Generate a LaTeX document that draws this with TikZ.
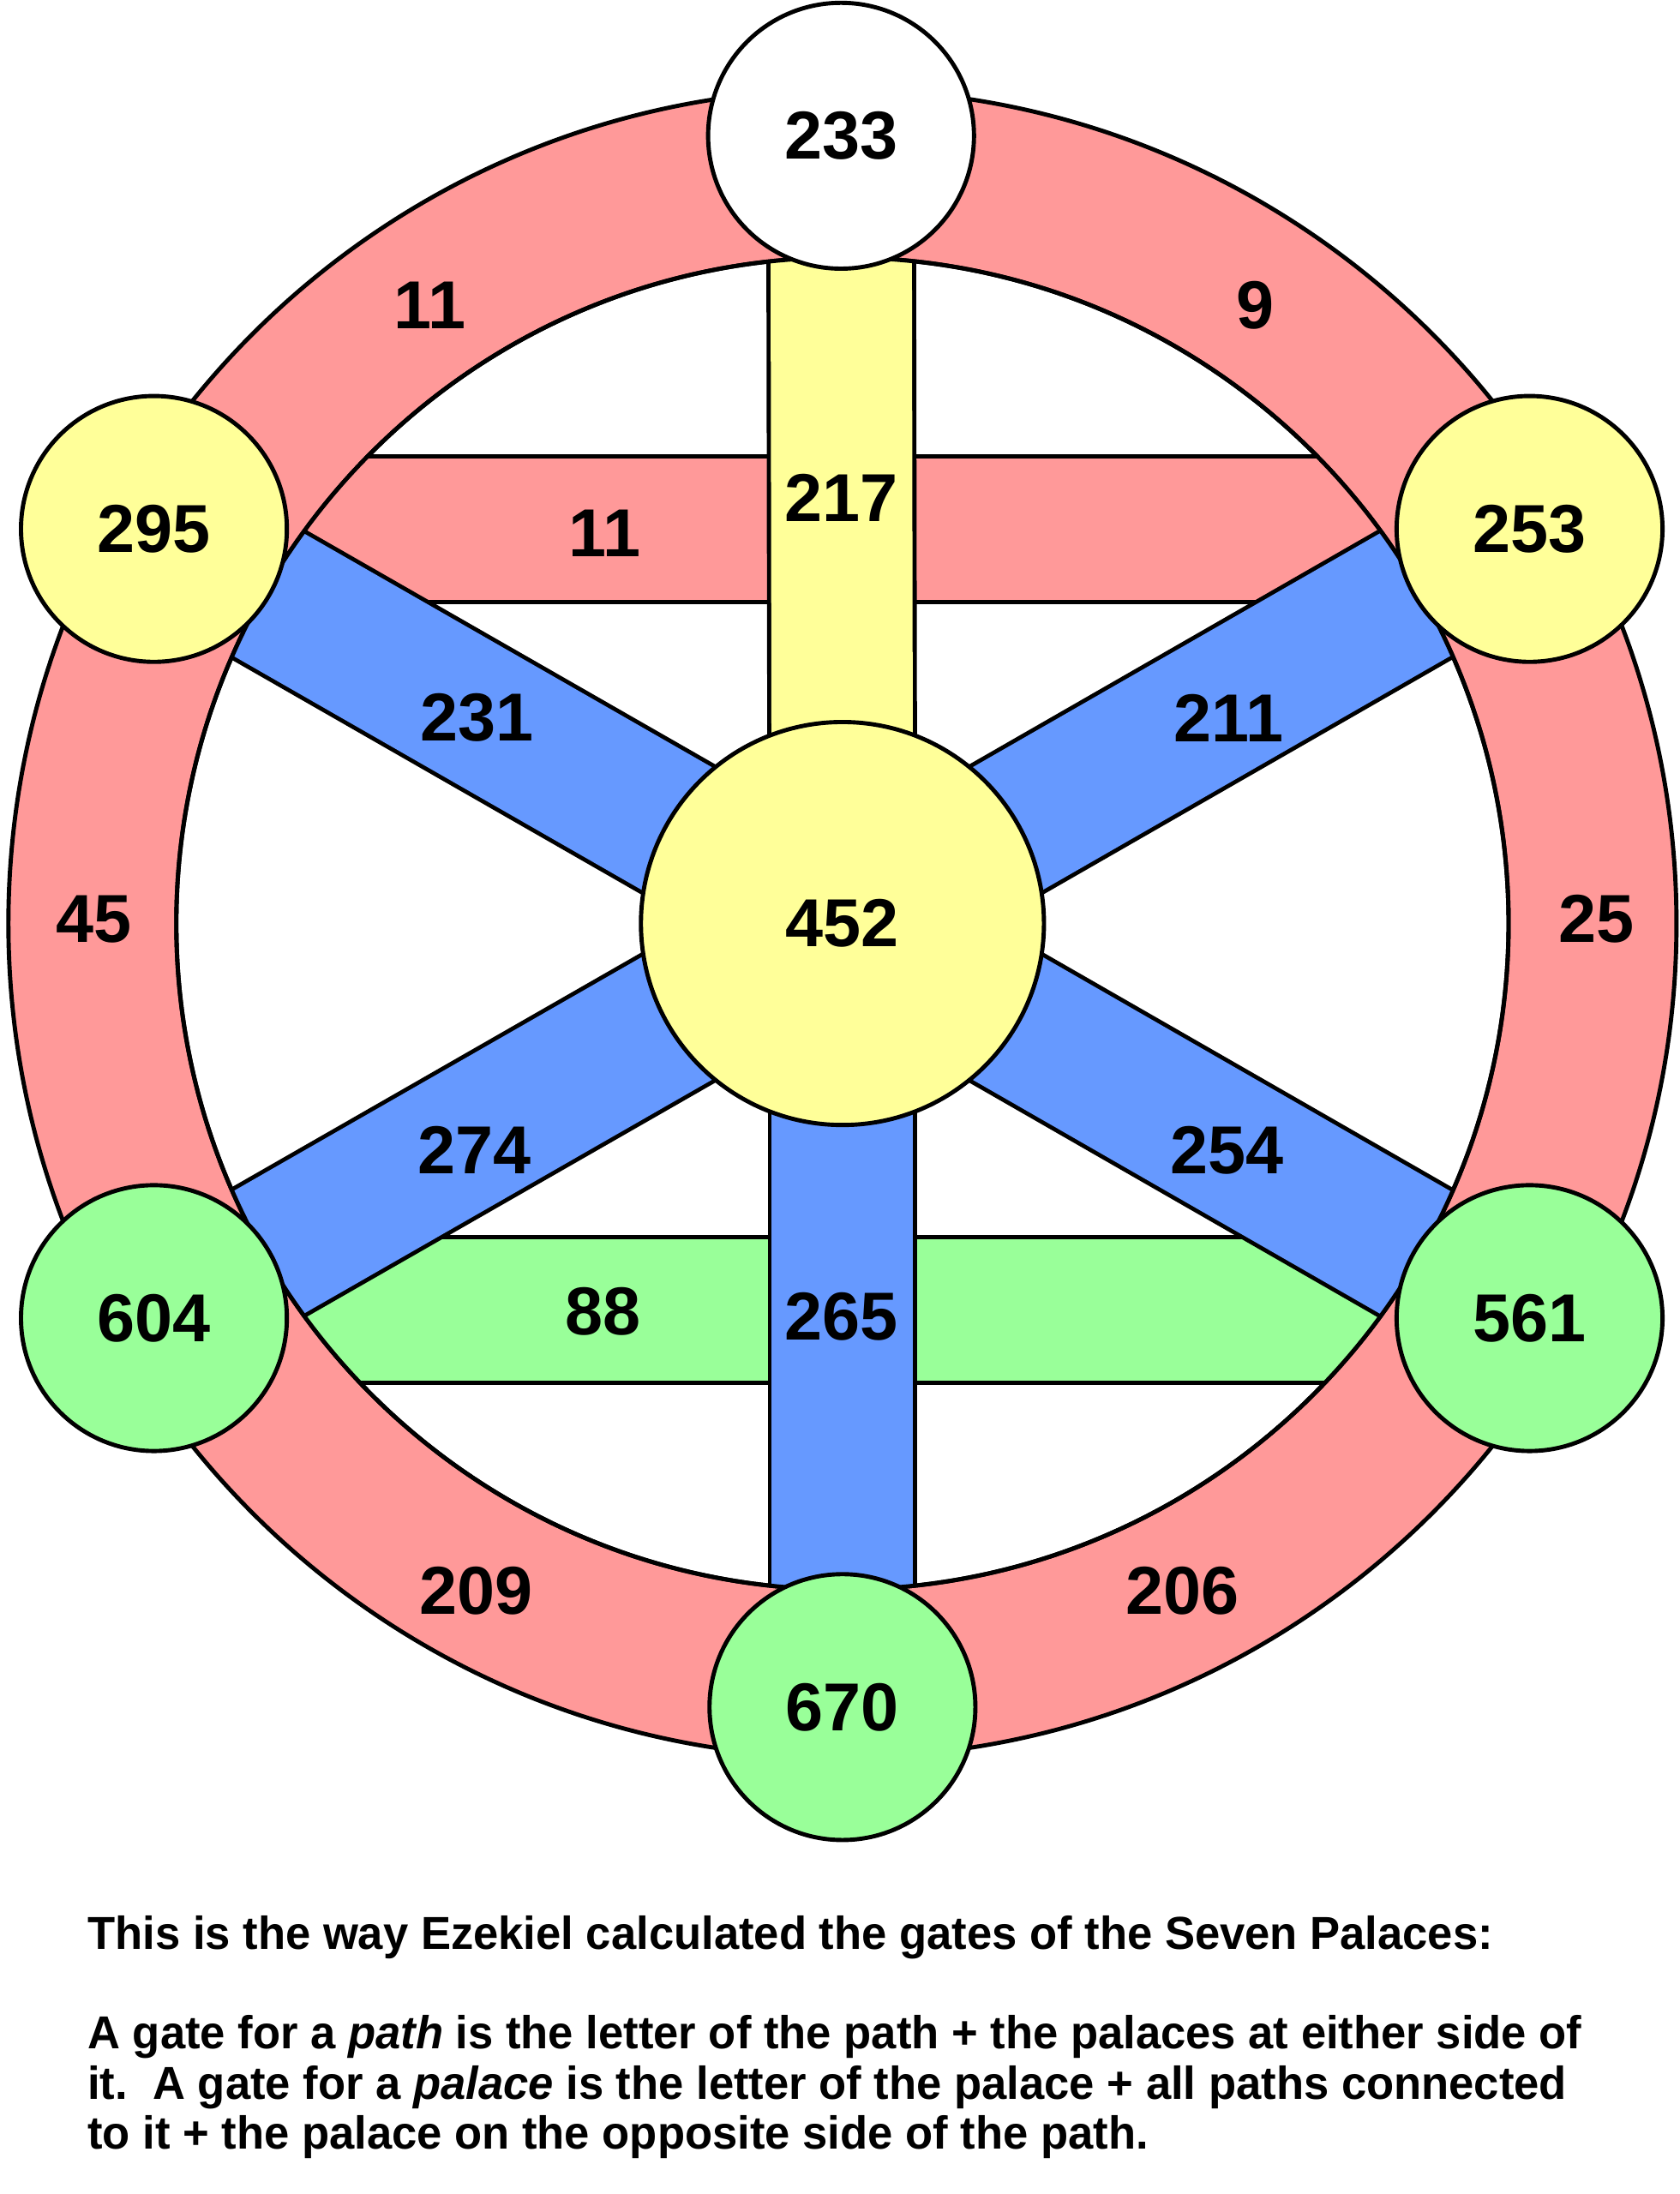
\documentclass[tikz,border=0pt]{standalone}
\usepackage{fontspec}
\setmainfont{Liberation Sans}
\usepackage{tikz}
\usetikzlibrary{backgrounds}
\definecolor{rimred}{HTML}{FF9999}
\definecolor{palyellow}{HTML}{FFFF99}
\definecolor{palgreen}{HTML}{99FF99}
\definecolor{pathblue}{HTML}{6699FF}

\begin{document}
\begin{tikzpicture}[x=0.1mm,y=-0.1mm,line width=0.3mm]
\tikzset{palace/.style={draw,circle,minimum size=19mm,inner sep=0pt,font=\fontsize{13.8}{16}\selectfont\bfseries},
  num/.style={inner sep=0pt,font=\fontsize{13.8}{16}\selectfont\bfseries},
  bar/.style={draw=black,double=#1,double distance=10.1mm},
  note/.style={anchor=base west,inner sep=0pt,xscale=0.975,font=\fontsize{9.4}{11}\selectfont\bfseries}}
\useasboundingbox (0,0) rectangle (1200,1568);
\coordinate (c) at (602,660);

% palaces
\node (hub) at (602,660) [palace,fill=palyellow,minimum size=28.8mm] {452};
\node (p233) at (601,97) [palace,fill=white] {233};
\node (p295) at (110,378) [palace,fill=palyellow] {295};
\node (p253) at (1093,378) [palace,fill=palyellow] {253};
\node (p604) at (110,942) [palace,fill=palgreen] {604};
\node (p561) at (1093,942) [palace,fill=palgreen] {561};
\node (p670) at (602,1220) [palace,fill=palgreen] {670};

\begin{pgfonlayer}{background}
\begin{scope}[line width=0.3mm]
% rim
\fill[rimred,even odd rule] (c) circle (596) (c) circle (476);
\draw (c) circle (596) (c) circle (476);
% paths inside the rim
\begin{scope}
\clip (c) circle (476);
\draw[bar=rimred] (p295.center) -- (p253.center);
\draw[bar=palgreen] ([yshift=0.6mm]p604.center) -- ([yshift=0.6mm]p561.center);
\draw[bar=pathblue] (hub.center) -- (p295.center);
\draw[bar=pathblue] (hub.center) -- (p253.center);
\draw[bar=pathblue] (hub.center) -- (p604.center);
\draw[bar=pathblue] (hub.center) -- (p561.center);
\draw[bar=palyellow] (hub.center) -- (p233.center);
\draw[bar=pathblue] (hub.center) -- (p670.center);
\end{scope}
\draw (c) circle (476);
\end{scope}
\end{pgfonlayer}

% gates on the rim
\node (r11) at (307,218) [num] {11};
\node (r9) at (897,218) [num] {9};
\node (r45) at (67,657) [num] {45};
\node (r25) at (1141,657) [num] {25};
\node (r209) at (340,1137) [num] {209};
\node (r206) at (845,1137) [num] {206};
% gates on the paths
\node (h11) at (432,381) [num] {11};
\node (v217) at (601,356) [num] {217};
\node (d231) at (341,513) [num] {231};
\node (d211) at (878,513) [num] {211};
\node (d274) at (339,822) [num] {274};
\node (d254) at (877,822) [num] {254};
\node (h88) at (431,937) [num] {88};
\node (v265) at (601,941) [num] {265};

% explanation
\node (line1) at (62,1393) [note] {This is the way Ezekiel calculated the gates of the Seven Palaces:};
\node (line2) at (62,1464) [note] {A gate for a \textit{path} is the letter of the path + the palaces at either side of};
\node (line3) at (62,1500) [note] {it.\ \ A gate for a \textit{palace} is the letter of the palace + all paths connected};
\node (line4) at (62,1536) [note] {to it + the palace on the opposite side of the path.};
\end{tikzpicture}
\end{document}
